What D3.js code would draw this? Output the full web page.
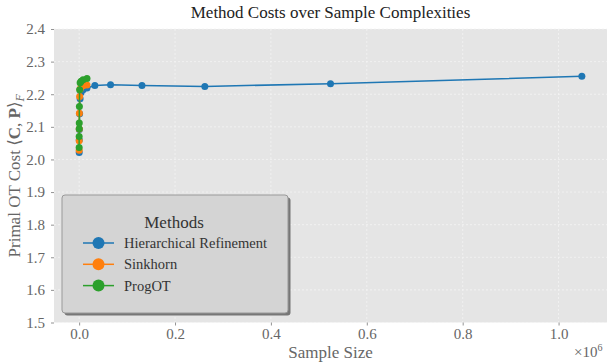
<!DOCTYPE html>
<html>
<head>
<meta charset="utf-8">
<script src="https://cdn.jsdelivr.net/npm/d3@7.9.0/dist/d3.min.js"></script>
<style>
  body { margin: 0; background: #fff; }
  svg text { font-family: "Liberation Serif", "DejaVu Serif", serif; }
</style>
</head>
<body>
<svg id="chart"></svg>
<script>
// sample sizes and costs
const hrSizes = [128, 256, 512, 1024, 2048, 4096, 8192, 16384, 32768, 65536, 131072, 262144, 524288, 1048576];
const hrCosts = [2.021, 2.060, 2.092, 2.140, 2.186, 2.205, 2.214, 2.219, 2.227, 2.229, 2.227, 2.224, 2.232, 2.255];

const skSizes = [64, 128, 256, 512, 1024, 2048, 4096, 8192, 16384];
const skCosts = [2.028, 2.057, 2.093, 2.142, 2.193, 2.215, 2.222, 2.226, 2.228];

const pgSizes = [32, 64, 128, 256, 512, 1024, 2048, 4096, 8192, 16384];
const pgCosts = [2.037, 2.070, 2.094, 2.112, 2.162, 2.214, 2.235, 2.240, 2.244, 2.248];

const methods = ["Hierarchical Refinement", "Sinkhorn", "ProgOT"];
const colors = ["#1f77b4", "#ff7f0e", "#2ca02c"];
const xTicks = [0, 200000, 400000, 600000, 800000, 1000000];
const yTicks = [1.5, 1.6, 1.7, 1.8, 1.9, 2.0, 2.1, 2.2, 2.3, 2.4];

const W = 607, H = 362;
const margin = { top: 29, right: 0, bottom: 40, left: 54 };
const width = W - margin.left - margin.right;
const height = 322.5 - margin.top;

const svg = d3.select("#chart").attr("width", W).attr("height", H);
const g = svg.append("g").attr("transform", `translate(${margin.left},${margin.top})`);

const xMax = 1048576;
const x = d3.scaleLinear().domain([-0.05 * xMax, 1.05 * xMax]).range([0, width]);
const y = d3.scaleLinear().domain([1.5, 2.4]).range([height, 0]);

g.append("rect").attr("width", width).attr("height", height).attr("fill", "#e5e5e5");

// grid
g.append("g").selectAll("line").data(xTicks).join("line")
    .attr("x1", d => x(d)).attr("x2", d => x(d))
    .attr("y1", 0).attr("y2", height)
    .attr("stroke", "#f4f4f4").attr("stroke-width", 0.8).attr("stroke-dasharray", "2,2");
g.append("g").selectAll("line").data(yTicks).join("line")
    .attr("x1", 0).attr("x2", width)
    .attr("y1", d => y(d)).attr("y2", d => y(d))
    .attr("stroke", "#f4f4f4").attr("stroke-width", 0.8).attr("stroke-dasharray", "2,2");

// axes
const xAxis = g.append("g").attr("transform", `translate(0,${height})`)
    .call(d3.axisBottom(x).tickValues(xTicks).tickFormat(d => (d / 1e6).toFixed(1)).tickSize(3).tickPadding(3));
const yAxis = g.append("g")
    .call(d3.axisLeft(y).tickValues(yTicks).tickFormat(d3.format(".1f")).tickSize(3).tickPadding(6));
[xAxis, yAxis].forEach(a => {
    a.select(".domain").remove();
    a.selectAll(".tick line").attr("stroke", "#777").attr("stroke-width", 0.8);
    a.selectAll(".tick text").attr("fill", "#666").style("font-size", "15px")
        .style("font-family", "'Liberation Serif', serif");
});

// series
const series = [
    { sizes: hrSizes, costs: hrCosts },
    { sizes: skSizes, costs: skCosts },
    { sizes: pgSizes, costs: pgCosts }
];
const line = d3.line().x(d => x(d[0])).y(d => y(d[1]));
series.forEach((s, i) => {
    const pts = s.sizes.map((n, j) => [n, s.costs[j]]);
    g.append("path").datum(pts).attr("d", line)
        .attr("fill", "none").attr("stroke", colors[i]).attr("stroke-width", 1.5);
    g.append("g").selectAll("circle").data(pts).join("circle")
        .attr("cx", d => x(d[0])).attr("cy", d => y(d[1])).attr("r", 3.5)
        .attr("fill", colors[i]);
});

// title and labels
svg.append("text").attr("x", margin.left + width / 2).attr("y", 18)
    .attr("text-anchor", "middle").attr("fill", "#222").style("font-size", "17px")
    .text("Method Costs over Sample Complexities");

svg.append("text").attr("x", margin.left + width / 2).attr("y", 358)
    .attr("text-anchor", "middle").attr("fill", "#666").style("font-size", "17px")
    .text("Sample Size");

const mult = svg.append("text").attr("x", 574).attr("y", 357).attr("fill", "#666").style("font-size", "15px");
mult.append("tspan").text("×10");
mult.append("tspan").attr("dy", -6).style("font-size", "10px").text("6");

const yl = svg.append("text")
    .attr("transform", `translate(20,${margin.top + height / 2}) rotate(-90)`)
    .attr("text-anchor", "middle").attr("fill", "#666").style("font-size", "17px");
yl.append("tspan").text("Primal OT Cost ⟨");
yl.append("tspan").attr("font-weight", "bold").text("C");
yl.append("tspan").text(", ");
yl.append("tspan").attr("font-weight", "bold").text("P");
yl.append("tspan").text("⟩");
yl.append("tspan").attr("dy", 4).attr("font-style", "italic").style("font-size", "12px").text("F");

// legend
const lg = svg.append("g").attr("transform", "translate(62,195)");
lg.append("rect").attr("x", 2.5).attr("y", 2.5).attr("width", 226).attr("height", 118).attr("rx", 3)
    .attr("fill", "#777");
lg.append("rect").attr("width", 226).attr("height", 118).attr("rx", 3)
    .attr("fill", "#d4d4d4").attr("stroke", "#999").attr("stroke-width", 1);
lg.append("text").attr("x", 112).attr("y", 33).attr("text-anchor", "middle")
    .attr("fill", "#333").style("font-size", "17px").text("Methods");
methods.forEach((m, i) => {
    const yy = 48 + i * 21.3;
    lg.append("line").attr("x1", 21).attr("x2", 52).attr("y1", yy).attr("y2", yy)
        .attr("stroke", colors[i]).attr("stroke-width", 1.5);
    lg.append("circle").attr("cx", 36.5).attr("cy", yy).attr("r", 6).attr("fill", colors[i]);
    lg.append("text").attr("x", 62).attr("y", yy + 5).attr("fill", "#333")
        .style("font-size", "14.5px").text(m);
});
</script>
</body>
</html>
